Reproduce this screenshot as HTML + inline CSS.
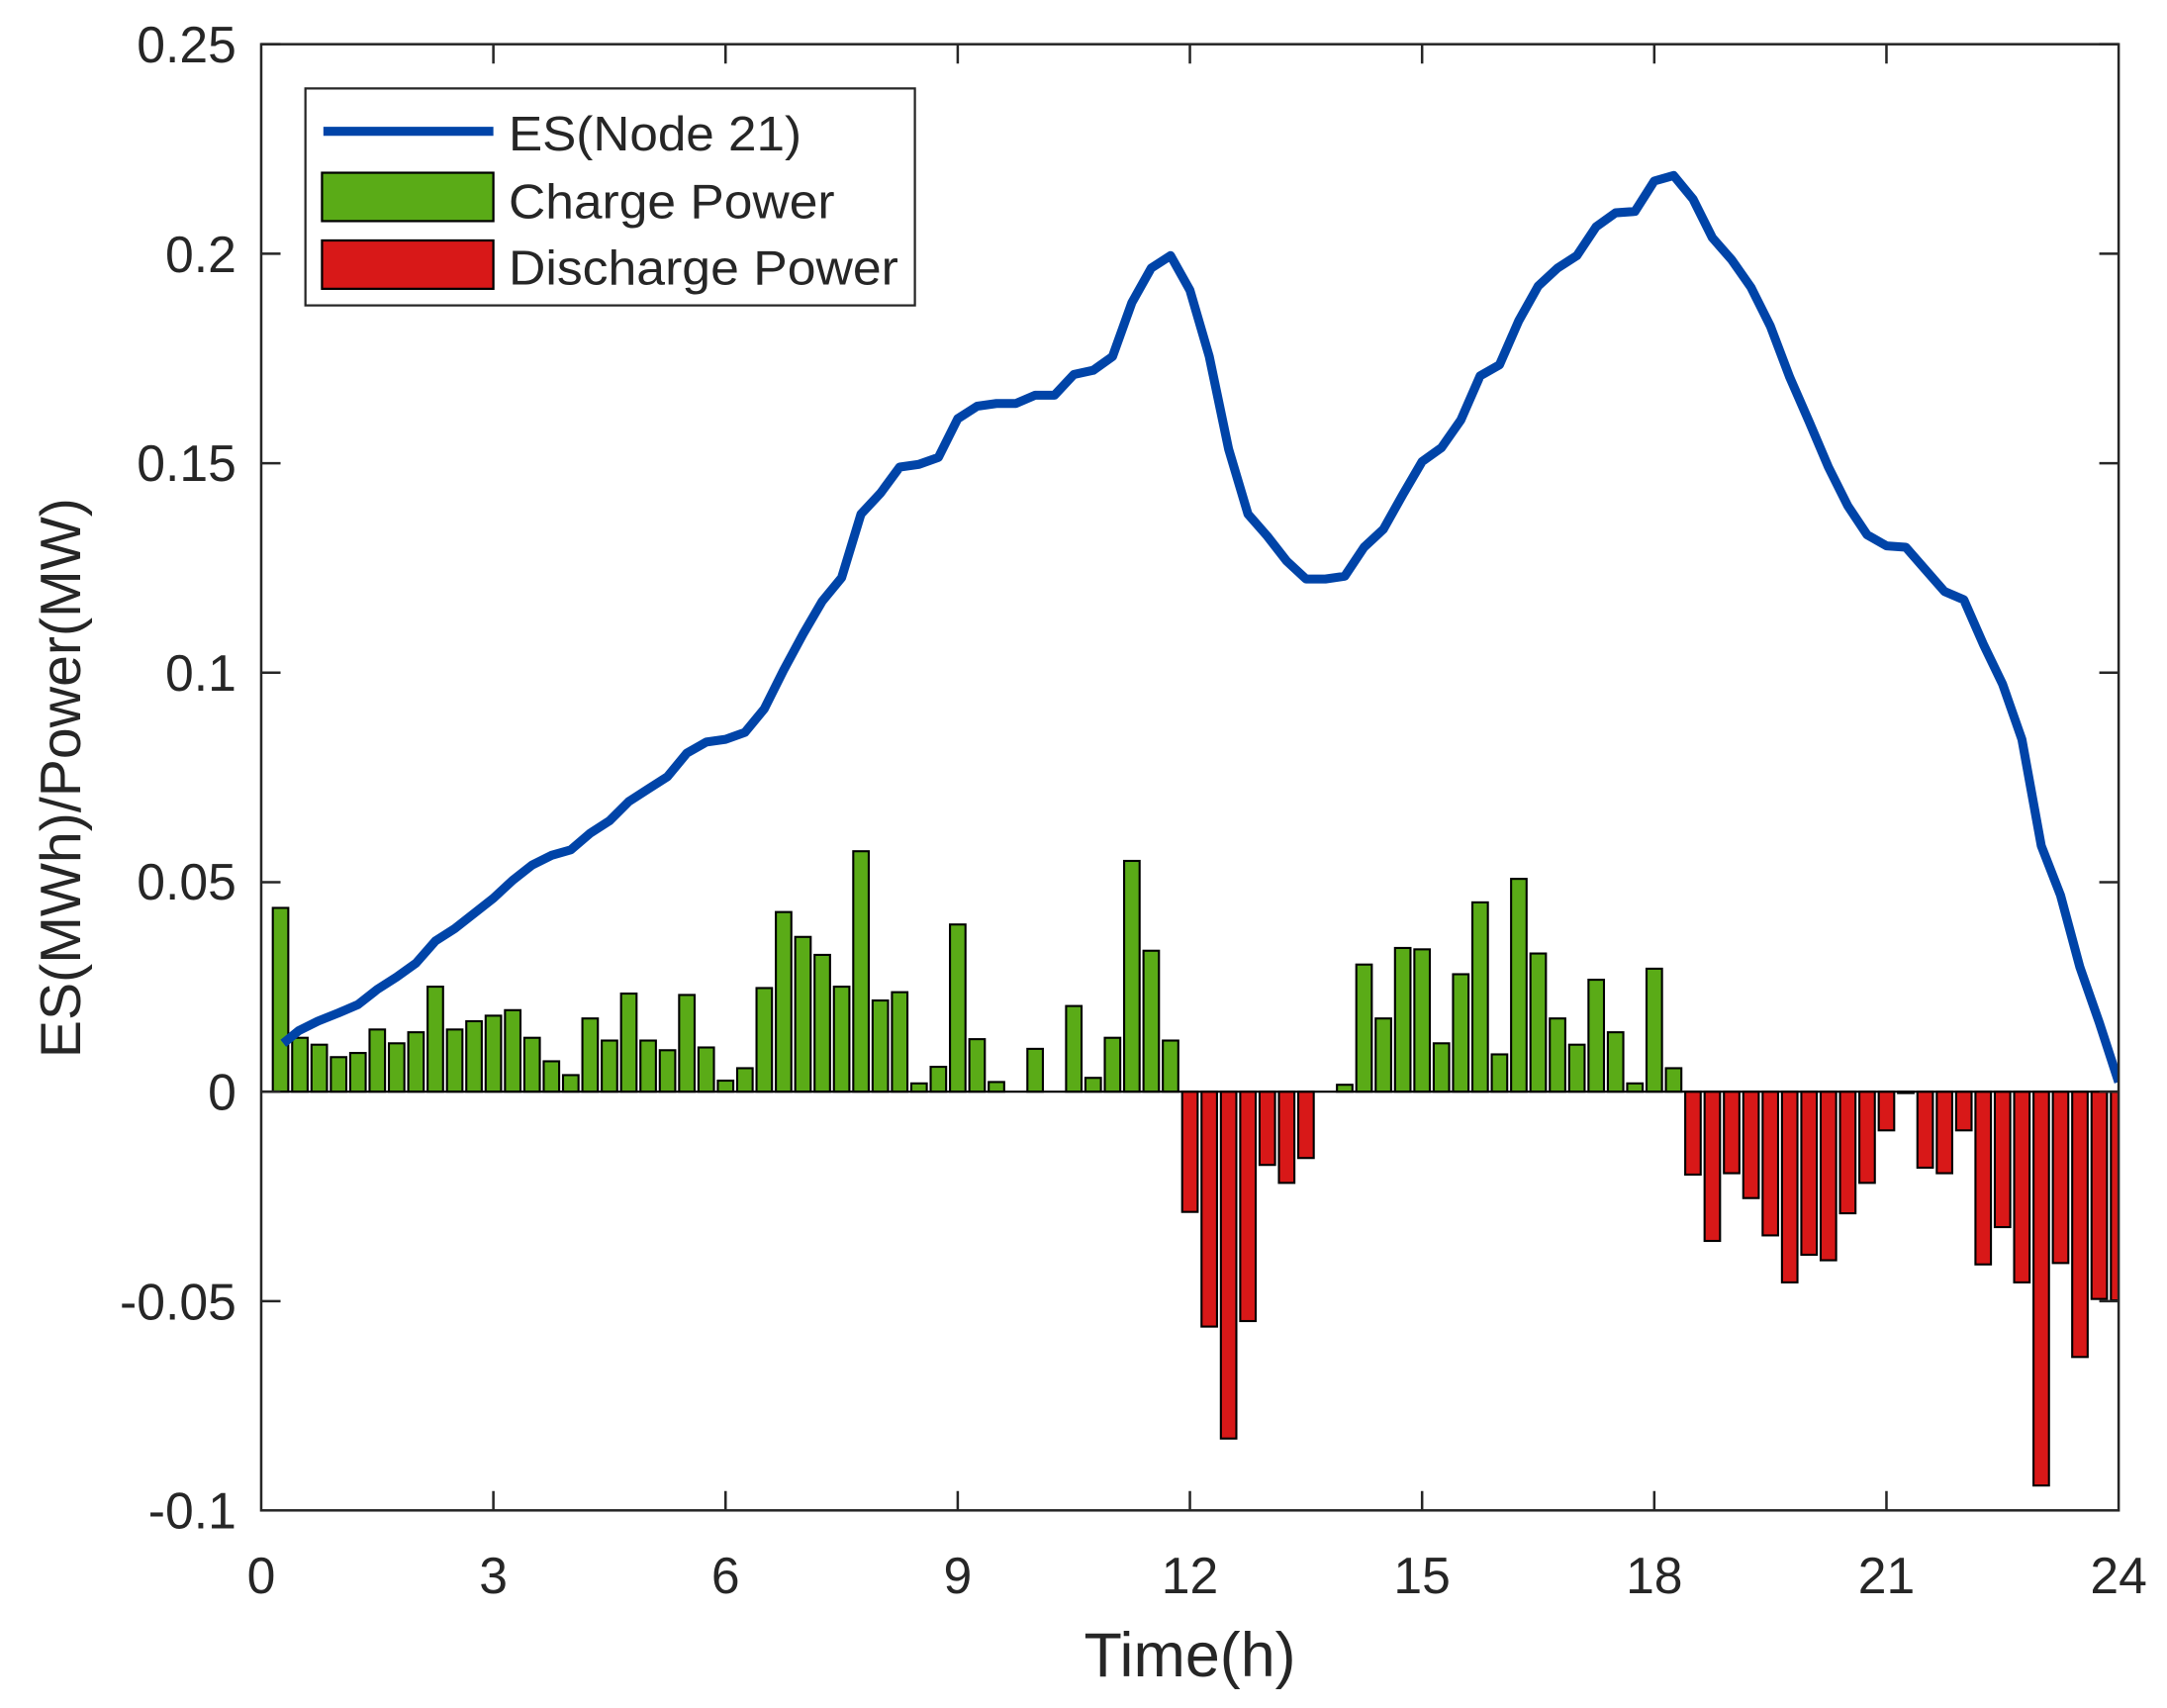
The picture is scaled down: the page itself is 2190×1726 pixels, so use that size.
<!DOCTYPE html>
<html><head><meta charset="utf-8"><style>
html,body{margin:0;padding:0;background:#fff;}
svg{display:block;}
text{font-family:"Liberation Sans",Arial,sans-serif;fill:#262626;}
</style></head><body>
<svg width="2190" height="1726" viewBox="0 0 1568 1236" preserveAspectRatio="none" xmlns="http://www.w3.org/2000/svg">
<rect x="0" y="0" width="1568" height="1236" fill="#fff"/>
<defs><clipPath id="c"><rect x="189" y="32" width="1344" height="1061"/></clipPath></defs>
<g clip-path="url(#c)" stroke="#000" stroke-width="1.5">
<g fill="#5aab17">
<rect x="197.4" y="657" width="11.2" height="133"/>
<rect x="211.4" y="751" width="11.2" height="39"/>
<rect x="225.4" y="756" width="11.2" height="34"/>
<rect x="239.4" y="765" width="11.2" height="25"/>
<rect x="253.4" y="762" width="11.2" height="28"/>
<rect x="267.4" y="745" width="11.2" height="45"/>
<rect x="281.4" y="755" width="11.2" height="35"/>
<rect x="295.4" y="747" width="11.2" height="43"/>
<rect x="309.4" y="714" width="11.2" height="76"/>
<rect x="323.4" y="745" width="11.2" height="45"/>
<rect x="337.4" y="739" width="11.2" height="51"/>
<rect x="351.4" y="735" width="11.2" height="55"/>
<rect x="365.4" y="731" width="11.2" height="59"/>
<rect x="379.4" y="751" width="11.2" height="39"/>
<rect x="393.4" y="768" width="11.2" height="22"/>
<rect x="407.4" y="778" width="11.2" height="12"/>
<rect x="421.4" y="737" width="11.2" height="53"/>
<rect x="435.4" y="753" width="11.2" height="37"/>
<rect x="449.4" y="719" width="11.2" height="71"/>
<rect x="463.4" y="753" width="11.2" height="37"/>
<rect x="477.4" y="760" width="11.2" height="30"/>
<rect x="491.4" y="720" width="11.2" height="70"/>
<rect x="505.4" y="758" width="11.2" height="32"/>
<rect x="519.4" y="782" width="11.2" height="8"/>
<rect x="533.4" y="773" width="11.2" height="17"/>
<rect x="547.4" y="715" width="11.2" height="75"/>
<rect x="561.4" y="660" width="11.2" height="130"/>
<rect x="575.4" y="678" width="11.2" height="112"/>
<rect x="589.4" y="691" width="11.2" height="99"/>
<rect x="603.4" y="714" width="11.2" height="76"/>
<rect x="617.4" y="616" width="11.2" height="174"/>
<rect x="631.4" y="724" width="11.2" height="66"/>
<rect x="645.4" y="718" width="11.2" height="72"/>
<rect x="659.4" y="784" width="11.2" height="6"/>
<rect x="673.4" y="772" width="11.2" height="18"/>
<rect x="687.4" y="669" width="11.2" height="121"/>
<rect x="701.4" y="752" width="11.2" height="38"/>
<rect x="715.4" y="783" width="11.2" height="7"/>
<rect x="743.4" y="759" width="11.2" height="31"/>
<rect x="771.4" y="728" width="11.2" height="62"/>
<rect x="785.4" y="780" width="11.2" height="10"/>
<rect x="799.4" y="751" width="11.2" height="39"/>
<rect x="813.4" y="623" width="11.2" height="167"/>
<rect x="827.4" y="688" width="11.2" height="102"/>
<rect x="841.4" y="753" width="11.2" height="37"/>
<rect x="967.4" y="785" width="11.2" height="5"/>
<rect x="981.4" y="698" width="11.2" height="92"/>
<rect x="995.4" y="737" width="11.2" height="53"/>
<rect x="1009.4" y="686" width="11.2" height="104"/>
<rect x="1023.4" y="687" width="11.2" height="103"/>
<rect x="1037.4" y="755" width="11.2" height="35"/>
<rect x="1051.4" y="705" width="11.2" height="85"/>
<rect x="1065.4" y="653" width="11.2" height="137"/>
<rect x="1079.4" y="763" width="11.2" height="27"/>
<rect x="1093.4" y="636" width="11.2" height="154"/>
<rect x="1107.4" y="690" width="11.2" height="100"/>
<rect x="1121.4" y="737" width="11.2" height="53"/>
<rect x="1135.4" y="756" width="11.2" height="34"/>
<rect x="1149.4" y="709" width="11.2" height="81"/>
<rect x="1163.4" y="747" width="11.2" height="43"/>
<rect x="1177.4" y="784" width="11.2" height="6"/>
<rect x="1191.4" y="701" width="11.2" height="89"/>
<rect x="1205.4" y="773" width="11.2" height="17"/>
</g>
<g fill="#d81818">
<rect x="855.4" y="790" width="11.2" height="87"/>
<rect x="869.4" y="790" width="11.2" height="170"/>
<rect x="883.4" y="790" width="11.2" height="251"/>
<rect x="897.4" y="790" width="11.2" height="166"/>
<rect x="911.4" y="790" width="11.2" height="53"/>
<rect x="925.4" y="790" width="11.2" height="66"/>
<rect x="939.4" y="790" width="11.2" height="48"/>
<rect x="1219.4" y="790" width="11.2" height="60"/>
<rect x="1233.4" y="790" width="11.2" height="108"/>
<rect x="1247.4" y="790" width="11.2" height="59"/>
<rect x="1261.4" y="790" width="11.2" height="77"/>
<rect x="1275.4" y="790" width="11.2" height="104"/>
<rect x="1289.4" y="790" width="11.2" height="138"/>
<rect x="1303.4" y="790" width="11.2" height="118"/>
<rect x="1317.4" y="790" width="11.2" height="122"/>
<rect x="1331.4" y="790" width="11.2" height="88"/>
<rect x="1345.4" y="790" width="11.2" height="66"/>
<rect x="1359.4" y="790" width="11.2" height="28"/>
<rect x="1373.4" y="790" width="11.2" height="1"/>
<rect x="1387.4" y="790" width="11.2" height="55"/>
<rect x="1401.4" y="790" width="11.2" height="59"/>
<rect x="1415.4" y="790" width="11.2" height="28"/>
<rect x="1429.4" y="790" width="11.2" height="125"/>
<rect x="1443.4" y="790" width="11.2" height="98"/>
<rect x="1457.4" y="790" width="11.2" height="138"/>
<rect x="1471.4" y="790" width="11.2" height="285"/>
<rect x="1485.4" y="790" width="11.2" height="124"/>
<rect x="1499.4" y="790" width="11.2" height="192"/>
<rect x="1513.4" y="790" width="11.2" height="150"/>
<rect x="1527.4" y="790" width="11.2" height="151"/>
</g>
<line x1="189" y1="790" x2="1533" y2="790" stroke="#000" stroke-width="1.5"/>
<polyline fill="none" stroke="#0044a8" stroke-width="6.5" stroke-linejoin="round" points="205,755 216,746 230,739 245,733 259,727 273,716 287,707 301,697 315,681 329,672 343,661 357,650 371,637 385,626 399,619 413,615 427,603 441,594 455,580 469,571 483,562 497,545 511,537 525,535 539,530 553,513 567,485 581,459 595,435 609,418 623,372 637,357 651,338 665,336 679,331 693,303 707,294 721,292 735,292 749,286 763,286 777,271 791,268 805,258 819,219 833,194 847,185 861,210 875,258 889,325 903,372 917,388 931,406 945,419 959,419 973,417 987,396 1001,383 1015,358 1029,334 1043,324 1057,304 1071,272 1085,264 1099,232 1113,207 1127,194 1141,185 1155,164 1169,154 1183,153 1197,131 1211,127 1225,144 1239,172 1253,188 1267,208 1281,236 1295,273 1309,305 1323,338 1337,366 1351,387 1365,395 1379,396 1393,412 1407,428 1421,434 1435,466 1449,495 1463,535 1477,612 1491,648 1505,700 1519,740 1533,783"/>
</g>
<g stroke="#262626" stroke-width="1.8" fill="none">
<rect x="189" y="32" width="1344" height="1061"/>
<path d="M189,32h14M189,183.6h14M189,335.2h14M189,486.8h14M189,638.4h14M189,790h14M189,941.6h14M1533,32h-14M1533,183.6h-14M1533,335.2h-14M1533,486.8h-14M1533,638.4h-14M1533,790h-14M1533,941.6h-14"/>
<path d="M357,1093v-14M525,1093v-14M693,1093v-14M861,1093v-14M1029,1093v-14M1197,1093v-14M1365,1093v-14M357,32v14M525,32v14M693,32v14M861,32v14M1029,32v14M1197,32v14M1365,32v14"/>
</g>
<g font-size="37" text-anchor="end">
<text x="171" y="45">0.25</text>
<text x="171" y="197">0.2</text>
<text x="171" y="348">0.15</text>
<text x="171" y="500">0.1</text>
<text x="171" y="651">0.05</text>
<text x="171" y="803">0</text>
<text x="171" y="955">-0.05</text>
<text x="171" y="1106">-0.1</text>
</g>
<g font-size="37" text-anchor="middle">
<text x="189" y="1153">0</text>
<text x="357" y="1153">3</text>
<text x="525" y="1153">6</text>
<text x="693" y="1153">9</text>
<text x="861" y="1153">12</text>
<text x="1029" y="1153">15</text>
<text x="1197" y="1153">18</text>
<text x="1365" y="1153">21</text>
<text x="1533" y="1153">24</text>
</g>
<text x="861" y="1213" font-size="45" text-anchor="middle">Time(h)</text>
<text transform="translate(58,563) rotate(-90)" font-size="41" text-anchor="middle">ES(MWh)/Power(MW)</text>
<rect x="221" y="64" width="441" height="157" fill="#fff" stroke="#262626" stroke-width="1.6"/>
<line x1="234" y1="95" x2="357" y2="95" stroke="#0044a8" stroke-width="6.5"/>
<rect x="233" y="125" width="124" height="35" fill="#5aab17" stroke="#000" stroke-width="1.6"/>
<rect x="233" y="174" width="124" height="35" fill="#d81818" stroke="#000" stroke-width="1.6"/>
<g font-size="35">
<text x="368" y="109" textLength="212" lengthAdjust="spacingAndGlyphs">ES(Node 21)</text>
<text x="368" y="158" textLength="236" lengthAdjust="spacingAndGlyphs">Charge Power</text>
<text x="368" y="206" textLength="282" lengthAdjust="spacingAndGlyphs">Discharge Power</text>
</g>
</svg>
</body></html>
